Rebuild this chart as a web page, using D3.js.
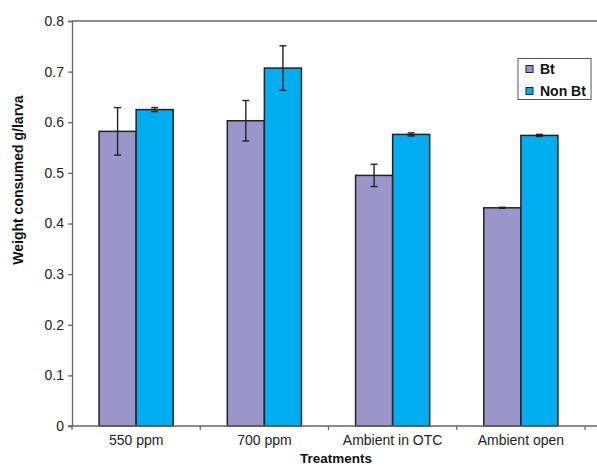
<!DOCTYPE html>
<html><head><meta charset="utf-8">
<script src="https://cdn.jsdelivr.net/npm/d3@7"></script>
<style>body{margin:0;background:#fff}svg{display:block}text{font-family:Arial,"Liberation Sans",sans-serif}</style>
</head><body><svg id="c" width="597" height="466"></svg>
<script>
const categories = ["550 ppm", "700 ppm", "Ambient in OTC", "Ambient open"];
const seriesNames = ["Bt", "Non Bt"];
const btValues = [0.582, 0.603, 0.495, 0.431];
const nonBtValues = [0.625, 0.707, 0.576, 0.574];
const btErrors = [0.047, 0.040, 0.022, 0.001];
const nonBtErrors = [0.004, 0.044, 0.003, 0.002];
const yTicks = [0, 0.1, 0.2, 0.3, 0.4, 0.5, 0.6, 0.7, 0.8];
const colors = ["#9c95c9", "#00adef"];

const svg = d3.select("#c");
const L = 72, R = 585, T = 21, B = 426;
const x = d3.scaleBand().domain(categories).range([L, R]).paddingInner(0).paddingOuter(0);
const xs = d3.scaleBand().domain(seriesNames).range([0, x.bandwidth()]).paddingInner(0).paddingOuter(0.73);
const y = d3.scaleLinear().domain([0, 0.8]).range([B, T]);
const axisColor = "#666";
const FONT = "Arial, 'Liberation Sans', sans-serif";

// frame top line
svg.append("line").attr("x1", L).attr("x2", 597).attr("y1", y(0.8)).attr("y2", y(0.8))
  .attr("stroke", axisColor).attr("stroke-width", 1.3);

const data = [];
categories.forEach((c, i) => {
  data.push({c, s: "Bt", v: btValues[i], e: btErrors[i], col: colors[0]});
  data.push({c, s: "Non Bt", v: nonBtValues[i], e: nonBtErrors[i], col: colors[1]});
});

svg.selectAll("rect.bar").data(data).enter().append("rect")
  .attr("x", d => x(d.c) + xs(d.s)).attr("width", xs.bandwidth())
  .attr("y", d => y(d.v)).attr("height", d => y(0) - y(d.v))
  .attr("fill", d => d.col).attr("stroke", "#222").attr("stroke-width", 1.5);

// error bars
const eg = svg.append("g").attr("stroke", "#222").attr("stroke-width", 1.4);
data.forEach(d => {
  const cx = x(d.c) + xs(d.s) + xs.bandwidth() / 2;
  eg.append("line").attr("x1", cx).attr("x2", cx).attr("y1", y(d.v + d.e)).attr("y2", y(d.v - d.e));
  [d.v + d.e, d.v - d.e].forEach(v => eg.append("line").attr("x1", cx - 3.5).attr("x2", cx + 3.5).attr("y1", y(v)).attr("y2", y(v)));
});

// y axis
const ya = svg.append("g").attr("transform", `translate(${L},0)`)
  .call(d3.axisLeft(y).tickValues(yTicks).tickSize(4).tickPadding(4).tickFormat(d => d === 0 ? "0" : d3.format(".1f")(d)));
ya.select(".domain").attr("stroke", axisColor).attr("stroke-width", 1.3);
ya.selectAll(".tick line").attr("stroke", axisColor).attr("stroke-width", 1.3);
ya.selectAll("text").attr("font-size", 14).attr("fill", "#222").attr("font-family", FONT);

// x axis
const xa = svg.append("g").attr("transform", `translate(0,${B})`)
  .call(d3.axisBottom(x).tickSize(0).tickPadding(9));
xa.select(".domain").remove();
xa.selectAll("text").attr("font-size", 14).attr("fill", "#222").attr("font-family", FONT);
svg.append("line").attr("x1", L - 4).attr("x2", 597).attr("y1", B).attr("y2", B).attr("stroke", axisColor).attr("stroke-width", 1.3);
const bounds = categories.map(c => x(c)).concat([x(categories[categories.length - 1]) + x.bandwidth()]);
svg.selectAll("line.xt").data(bounds).enter().append("line")
  .attr("x1", d => d).attr("x2", d => d).attr("y1", B).attr("y2", B + 4)
  .attr("stroke", axisColor).attr("stroke-width", 1.3);

// titles
svg.append("text").attr("transform", `translate(23,180) rotate(-90)`)
  .attr("text-anchor", "middle").attr("font-size", 14).attr("font-weight", "bold").attr("fill", "#111")
  .text("Weight consumed g/larva");
svg.append("text").attr("x", 336).attr("y", 463).attr("text-anchor", "middle")
  .attr("font-size", 13.5).attr("font-weight", "bold").attr("fill", "#111").text("Treatments");

// legend
const lg = svg.append("g");
lg.append("rect").attr("x", 518).attr("y", 58.5).attr("width", 73).attr("height", 41)
  .attr("fill", "#fff").attr("stroke", "#555").attr("stroke-width", 1);
seriesNames.forEach((s, i) => {
  lg.append("rect").attr("x", 526).attr("y", 65.5 + i * 22).attr("width", 7).attr("height", 7)
    .attr("fill", colors[i]).attr("stroke", "#222").attr("stroke-width", 1);
  lg.append("text").attr("x", 540).attr("y", 74 + i * 22).attr("font-size", 14).attr("font-weight", "bold")
    .attr("fill", "#111").text(s);
});
</script></body></html>
